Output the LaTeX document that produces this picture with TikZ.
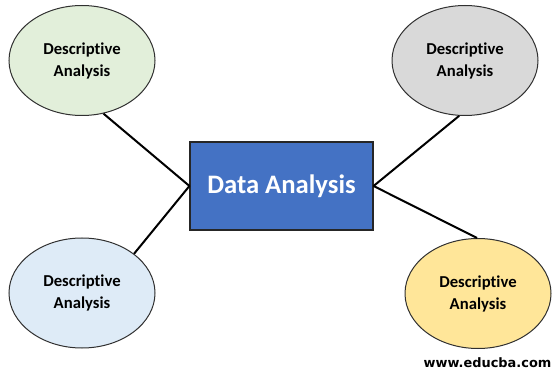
\documentclass[tikz,border=0pt]{standalone}
\usepackage{fontspec}
\setmainfont{Carlito}[Ligatures={NoCommon}]
\newfontfamily\wwwfont{DejaVu Sans}
\usetikzlibrary{shapes.geometric}
\definecolor{fgreen}{HTML}{E2EFDA}
\definecolor{fgrey}{HTML}{D9D9D9}
\definecolor{fblue}{HTML}{DEEBF7}
\definecolor{fyellow}{HTML}{FFE699}
\definecolor{fmain}{HTML}{4472C4}
\definecolor{edge}{HTML}{303030}
\tikzset{
  bubble/.style={ellipse, draw=edge, line width=0.75pt, inner sep=0pt,
    minimum width=109.5pt, minimum height=82.5pt, align=center,
    font=\fontsize{12.5}{16.5}\selectfont\bfseries},
  mainbox/.style={rectangle, draw=black!85, line width=1.1pt, fill=fmain,
    minimum width=137pt, minimum height=66pt, inner sep=0pt, text=white,
    font=\fontsize{20}{24}\selectfont\bfseries},
  link/.style={line width=1.5pt, draw=black}
}
\begin{document}
\begin{tikzpicture}[x=0.75pt,y=-0.75pt]
\useasboundingbox (0,0) rectangle (558,378);
\node[mainbox] (main) at (281.5,186) {Data Analysis};
\node[bubble, fill=fgreen] (tl) at (82,60.5) {Descriptive\\Analysis};
\node[bubble, fill=fgrey] (tr) at (465,60.5) {Descriptive\\Analysis};
\node[bubble, fill=fblue] (bl) at (82,293) {Descriptive\\Analysis};
\node[bubble, fill=fyellow] (br) at (478,293.5) {Descriptive\\Analysis};
\draw[link] (tl.-68) -- (main.west);
\draw[link] (bl.37) -- (main.west);
\draw[link] (tr.-96) -- (main.east);
\draw[link] (br.91) -- (main.east);
\node[anchor=base, inner sep=0pt, font=\wwwfont\fontsize{9.7}{12}\selectfont\bfseries] (www) at (487.5,368) {www.educba.com};
\end{tikzpicture}
\end{document}
